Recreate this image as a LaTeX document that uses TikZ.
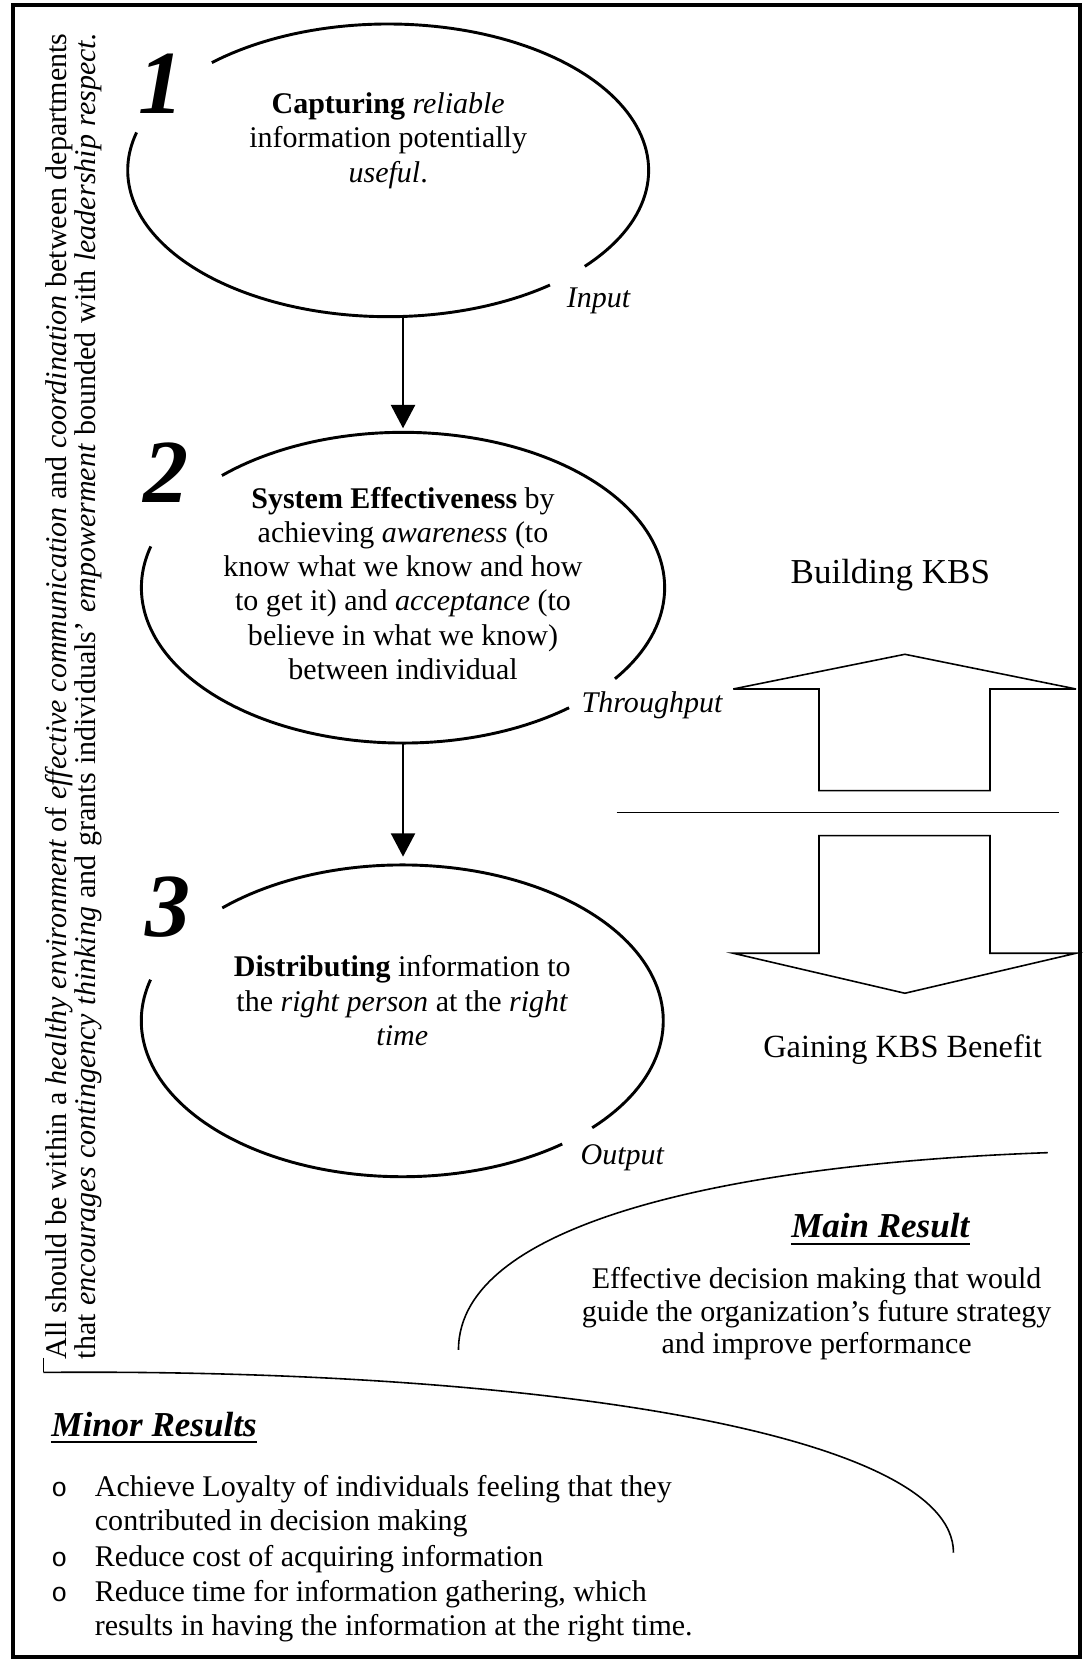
\documentclass[tikz,border=0pt]{standalone}
\usepackage{fontspec}
\setmainfont{Liberation Serif}
\newfontfamily\bulletfont{Liberation Mono}
\usetikzlibrary{arrows.meta,shapes.geometric}
% centred and left-aligned line stacks; the baseline is that of the first line
\newcommand\cstack[1]{\vtop{\halign{\hfil##\hfil\cr#1\crcr}}}
\newcommand\lstack[1]{\vtop{\halign{##\hfil\cr#1\crcr}}}
\begin{document}
\begin{tikzpicture}[x=0.4pt,y=-0.4pt,
  ring/.style={line width=1.1pt},
  flow/.style={line width=1pt,-{Triangle[width=9pt,length=8.8pt]}},
  thinline/.style={line width=0.6pt},
  oval/.style={ellipse,draw=none,inner sep=0pt,outer sep=0pt},
  body/.style={inner sep=0pt,font=\fontsize{11.32}{13}\selectfont},
  lbl/.style={inner sep=0pt,font=\fontsize{11.32}{13}\selectfont\itshape},
  big/.style={inner sep=0pt,font=\fontsize{13.2}{15}\selectfont},
  head/.style={inner sep=0pt,font=\fontsize{13.2}{15}\selectfont\bfseries\itshape},
  num/.style={inner sep=0pt,font=\fontsize{34}{40}\selectfont\bfseries\itshape},
  dot/.style={inner sep=0pt,font=\fontsize{10}{12}\bulletfont}]
\useasboundingbox (0,0) rectangle (1022,1568);

% outer frame
\draw[line width=1.5pt] (11.8,5) rectangle (1018,1562);

% side note, set in two justified lines reading upwards
\node[body,rotate=90,anchor=base west,font=\fontsize{11.32}{11}\selectfont] (side) at (63,1282)
  {\vtop{\hbox to 500pt{All should be within a \textit{healthy environment} of \textit{effective communication} and \textit{coordination} between departments}%
   \hbox to 500pt{that \textit{encourages contingency thinking} and grants individuals’ \textit{empowerment} bounded with \textit{leadership respect.}}}};

% the three stages
\node[oval,minimum width=196.5pt,minimum height=110.4pt] (e1) at (366,160.6) {};
\node[oval,minimum width=197.4pt,minimum height=117.2pt] (e2) at (380,554.1) {};
\node[oval,minimum width=196.9pt,minimum height=117.6pt] (e3) at (379.3,962.5) {};

\draw[ring,shift={(e1.center)}] plot[domain=-132.6:41,samples=90] ({245.6*cos(\x)},{138*sin(\x)});
\draw[ring,shift={(e1.center)}] plot[domain=-308.4:-165,samples=90] ({245.6*cos(\x)},{138*sin(\x)});
\draw[ring,shift={(e2.center)}] plot[domain=-133.8:35.9,samples=90] ({246.7*cos(\x)},{146.5*sin(\x)});
\draw[ring,shift={(e2.center)}] plot[domain=-309.4:-164.6,samples=90] ({246.7*cos(\x)},{146.5*sin(\x)});
\draw[ring,shift={(e3.center)}] plot[domain=-133.6:43.3,samples=90] ({246.1*cos(\x)},{147*sin(\x)});
\draw[ring,shift={(e3.center)}] plot[domain=-307.8:-164.7,samples=90] ({246.1*cos(\x)},{147*sin(\x)});

\node[num,anchor=base] (n1) at (152,107) {1};
\node[num,anchor=base] (n2) at (157,474) {2};
\node[num,anchor=base] (n3) at (158,883) {3};

\node[body,anchor=base] (t1) at (366,106.8)
  {\cstack{\textbf{Capturing} \textit{reliable}\cr information potentially\cr\textit{useful}.}};
\node[body,anchor=base,font=\fontsize{11.32}{12.9}\selectfont] (t2) at (380,479.2)
  {\cstack{\textbf{System Effectiveness} by\cr achieving \textit{awareness} (to\cr know what we know and how\cr to get it) and \textit{acceptance} (to\cr believe in what we know)\cr between individual}};
\node[body,anchor=base] (t3) at (379.3,920.8)
  {\cstack{\textbf{Distributing} information to\cr the \textit{right person} at the \textit{right}\cr\textit{time}}};

\node[lbl,anchor=base west] (lin) at (534,289.5) {Input};
\node[lbl,anchor=base west] (lthru) at (548,672) {Throughput};
\node[lbl,anchor=base west] (lout) at (547,1098.4) {Output};

\draw[flow,shorten >=1.5pt] (e1.south -| e2.north) -- (e2.north);
\draw[flow,shorten >=3.1pt] (e2.south) -- (e2.south |- e3.north);

% building / gaining block arrows
\node[big,anchor=base] (bk) at (839.5,550.6) {Building KBS};
\node[big,anchor=base,font=\fontsize{12.2}{14}\selectfont] (gk) at (851,997) {Gaining KBS Benefit};
\draw[thinline] (853.2,616.9) -- (1014.5,649.6) -- (933.4,649.6) -- (933.4,745.5)
  -- (772.2,745.5) -- (772.2,649.6) -- (691.4,649.6) -- cycle;
\draw[thinline] (581.4,766.2) -- (998.5,766.2);
\draw[thinline] (853.2,936.5) -- (1014.5,898.8) -- (933.4,898.8) -- (933.4,787.9)
  -- (772.2,787.9) -- (772.2,898.8) -- (691.4,898.8) -- cycle;

% main result
\draw[thinline] (432.3,1272.7) .. controls (432.3,1150) and (700,1097) .. (987.9,1086.8);
\node[head,anchor=base] (mr) at (830,1166.5) {Main Result};
\draw[line width=0.9pt] ([yshift=-2.6pt]mr.base west) -- ([yshift=-2.6pt]mr.base east);
\node[body,anchor=base,font=\fontsize{11.32}{12.3}\selectfont] (mt) at (770,1215)
  {\cstack{Effective decision making that would\cr guide the organization’s future strategy\cr and improve performance}};

% minor results
\draw[thinline] (41,1280) -- (41,1294);
\draw[thinline] (41,1294) .. controls (500,1290) and (899,1350) .. (899,1464);
\node[head,anchor=base west] (mn) at (48,1354) {Minor Results};
\draw[line width=0.9pt] ([yshift=-2.2pt]mn.base west) -- ([yshift=-2.2pt]mn.base east);

\node[dot,anchor=base west] (b1) at (48,1411) {o};
\node[dot,anchor=base west] (b2) at (48,1477) {o};
\node[dot,anchor=base west] (b3) at (48,1510) {o};
\node[body,anchor=base west] (i1) at (89,1411)
  {\lstack{Achieve Loyalty of individuals feeling that they\cr contributed in decision making}};
\node[body,anchor=base west] (i2) at (89,1477) {Reduce cost of acquiring information};
\node[body,anchor=base west] (i3) at (89,1510)
  {\lstack{Reduce time for information gathering, which\cr results in having the information at the right time.}};
\end{tikzpicture}
\end{document}
